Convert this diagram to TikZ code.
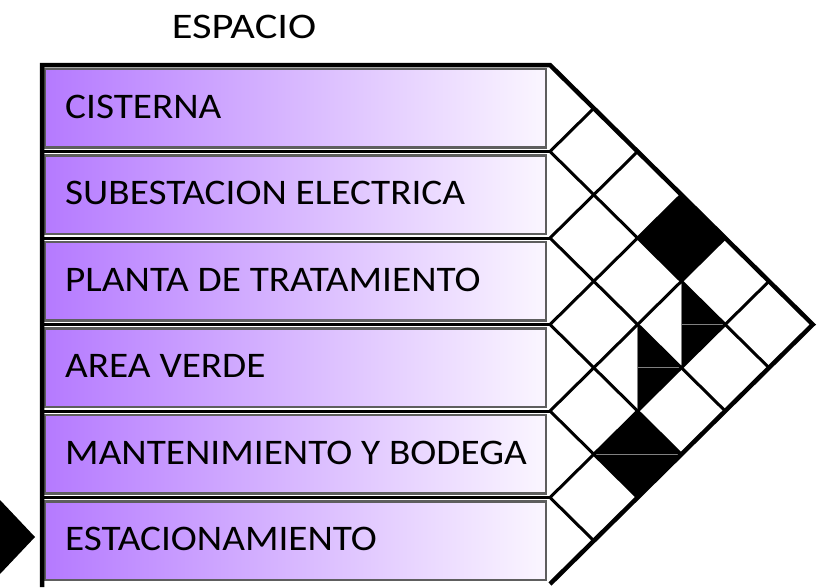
\documentclass[tikz,border=0pt]{standalone}
\usepackage{fontspec}
\setmainfont{Carlito}
\newfontfamily\lblfont[FakeStretch=1.09]{Carlito}
\newfontfamily\ttlfont[FakeStretch=1.18]{Carlito}
\definecolor{purpL}{HTML}{B57AFF}
\definecolor{purpR}{HTML}{FBF6FF}
\definecolor{bordergray}{HTML}{5E5E5E}
\begin{document}
\begin{tikzpicture}[x=1pt,y=-1pt,
  rowbox/.style={draw=bordergray, line width=2.5pt, left color=purpL, right color=purpR},
  lbl/.style={anchor=base west, inner sep=0pt, font=\lblfont\fontsize{36}{44}\selectfont},
  gridline/.style={line width=3pt, black, line join=miter},
  frameline/.style={line width=4.5pt, black, line join=miter},
  sepline/.style={line width=3pt, black},
  splitline/.style={line width=0.8pt, gray},
  cellfill/.style={fill=black}]
\useasboundingbox (0,0) rectangle (825,587);
\def\dx{43.8}
\def\dy{43.25}
% title
\node[anchor=base, inner sep=0pt, font=\ttlfont\fontsize{36}{44}\selectfont] (title) at (244,38.3) {ESPACIO};
% row boxes and labels
\foreach \i/\t in {0/CISTERNA,1/SUBESTACION ELECTRICA,2/PLANTA DE TRATAMIENTO,3/AREA VERDE,4/MANTENIMIENTO Y BODEGA,5/ESTACIONAMIENTO}{
  \shadedraw[rowbox] (45,{65+86.5*\i+4}) rectangle (546,{65+86.5*(\i+1)-4});
  \node[lbl] (r\i) at (65,{65+43.25*(2*\i+1)+10}) {\t};
}
% separators between rows
\foreach \k in {1,...,5}{
  \draw[sepline] (42,{65+86.5*\k}) -- (550,{65+86.5*\k});
}
% filled cells
\fill[cellfill] ({550+3*\dx},{65+3*\dy}) -- ({550+4*\dx},{65+4*\dy}) -- ({550+3*\dx},{65+5*\dy}) -- ({550+2*\dx},{65+4*\dy}) -- cycle;
\fill[cellfill] ({550+3*\dx},{65+5*\dy}) -- ({550+4*\dx},{65+6*\dy}) -- ({550+3*\dx},{65+7*\dy}) -- cycle;
\draw[splitline] ({550+3*\dx},{65+5*\dy}) -- ({550+3*\dx},{65+7*\dy});
\draw[splitline] ({550+3*\dx},{65+6*\dy}) -- ({550+4*\dx},{65+6*\dy});
\fill[cellfill] ({550+2*\dx},{65+6*\dy}) -- ({550+3*\dx},{65+7*\dy}) -- ({550+2*\dx},{65+8*\dy}) -- cycle;
\draw[splitline] ({550+2*\dx},{65+6*\dy}) -- ({550+2*\dx},{65+8*\dy});
\draw[splitline] ({550+2*\dx},{65+7*\dy}) -- ({550+3*\dx},{65+7*\dy});
\fill[cellfill] ({550+2*\dx},{65+8*\dy}) -- ({550+3*\dx},{65+9*\dy}) -- ({550+2*\dx},{65+10*\dy}) -- ({550+1*\dx},{65+9*\dy}) -- cycle;
\draw[splitline] ({550+1*\dx},{65+9*\dy}) -- ({550+3*\dx},{65+9*\dy});
% grid lines
\foreach \k in {1,...,5}{
  \draw[gridline] ({550+\k*\dx},{65+\k*\dy}) -- (550,{65+2*\k*\dy}) -- ({550+(6-\k)*\dx},{65+(6+\k)*\dy});
}
% outer frame
\draw[frameline] (42,587) -- (42,65) -- (550,65) -- ({550+6*\dx},{65+6*\dy}) -- (550,{65+12*\dy});
% left marker
\fill[black] (0,500) -- (35,537) -- (0,574) -- cycle;
\end{tikzpicture}
\end{document}
